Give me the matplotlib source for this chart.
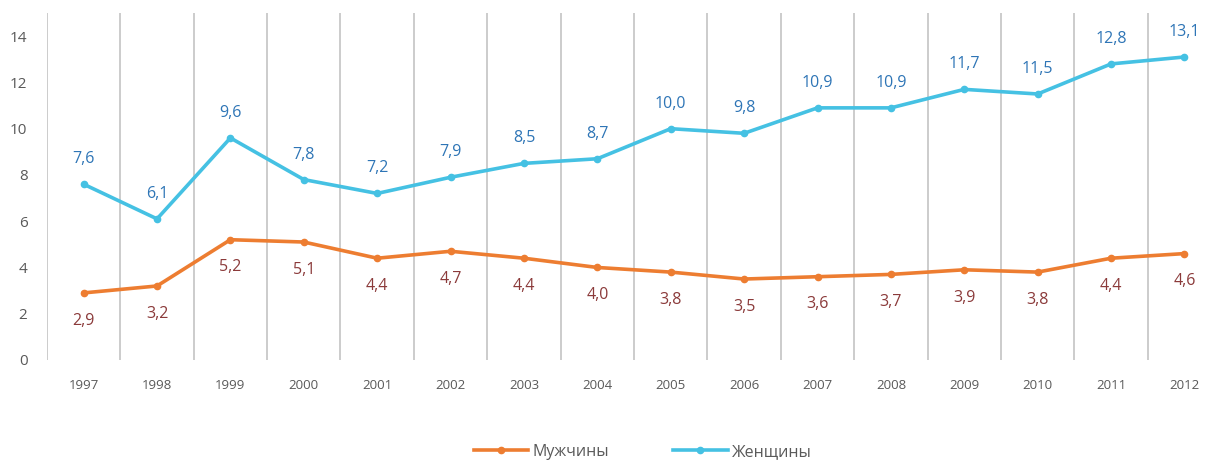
import matplotlib.pyplot as plt
import numpy as np

plt.rcParams["font.family"] = ["Open Sans", "DejaVu Sans"]

years = ["1997", "1998", "1999", "2000", "2001", "2002", "2003", "2004",
         "2005", "2006", "2007", "2008", "2009", "2010", "2011", "2012"]
men = [2.9, 3.2, 5.2, 5.1, 4.4, 4.7, 4.4, 4.0, 3.8, 3.5, 3.6, 3.7, 3.9, 3.8, 4.4, 4.6]
women = [7.6, 6.1, 9.6, 7.8, 7.2, 7.9, 8.5, 8.7, 10.0, 9.8, 10.9, 10.9, 11.7, 11.5, 12.8, 13.1]

c_men = "#ED7D31"
c_women = "#45C1E3"

fig = plt.figure(figsize=(12.13, 4.62), dpi=100)
ax = fig.add_axes([0.0387, 0.2208, 0.968, 0.751])

x = np.arange(len(years))
ax.plot(x, men, color=c_men, lw=2.6, marker="o", ms=4.5, label="Мужчины")
ax.plot(x, women, color=c_women, lw=2.6, marker="o", ms=4.5, label="Женщины")

for xi, v in zip(x, men):
    ax.annotate(f"{v:.1f}".replace(".", ","), (xi, v), xytext=(0, -20),
                textcoords="offset points", ha="center", va="center",
                color="#8B3A3A", fontsize=11.5)
for xi, v in zip(x, women):
    ax.annotate(f"{v:.1f}".replace(".", ","), (xi, v), xytext=(0, 18),
                textcoords="offset points", ha="center", va="center",
                color="#2E75B6", fontsize=11.5)

for b in np.arange(-0.5, len(years), 1.0):
    ax.axvline(b, color="#CCCCCC", lw=1.4, zorder=0)

ax.set_xlim(-0.5, len(years) - 0.5)
ax.set_ylim(0, 15)
ax.set_yticks(range(0, 15, 2))
ax.set_xticks(x)
ax.set_xticklabels(years)
ax.tick_params(axis="x", length=0, labelsize=9.5, colors="#595959", pad=14)
ax.tick_params(axis="y", length=0, labelsize=11, colors="#595959", pad=14)
for s in ax.spines.values():
    s.set_visible(False)

fig.legend(loc="center", bbox_to_anchor=(0.53, 0.022), ncol=2, frameon=False,
           fontsize=11.5, labelcolor="#595959", handlelength=3.4,
           columnspacing=4.0, handletextpad=0.3)

plt.savefig("out.png")
